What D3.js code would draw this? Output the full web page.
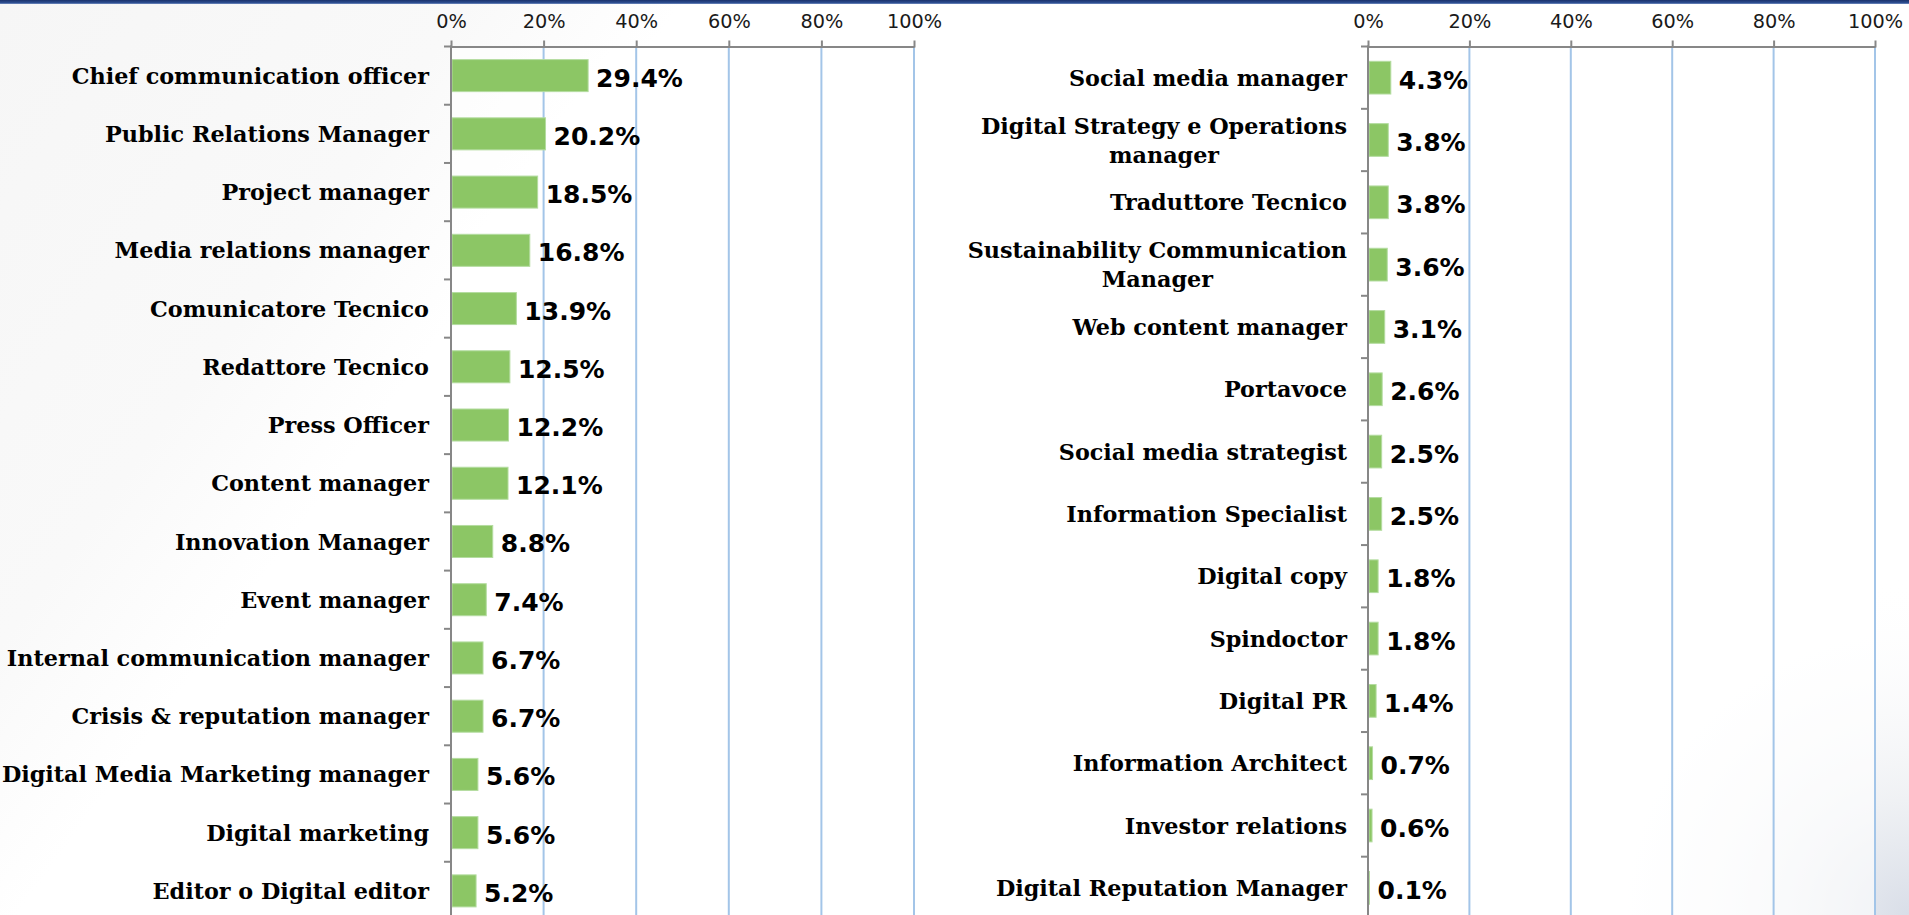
<!DOCTYPE html>
<html>
<head>
<meta charset="utf-8">
<script src="https://cdn.jsdelivr.net/npm/d3@7"></script>
<style>
  html, body { margin: 0; padding: 0; background: #f8f8f8; overflow: hidden; }
  svg { display: block; }
</style>
</head>
<body>
<svg id="chart" width="1909" height="915"></svg>
<script>
// ---------- DATA ----------
const leftCategories = [
  "Chief communication officer", "Public Relations Manager", "Project manager",
  "Media relations manager", "Comunicatore Tecnico", "Redattore Tecnico",
  "Press Officer", "Content manager", "Innovation Manager", "Event manager",
  "Internal communication manager", "Crisis & reputation manager",
  "Digital Media Marketing manager", "Digital marketing", "Editor o Digital editor"
];
const leftValues = [29.4, 20.2, 18.5, 16.8, 13.9, 12.5, 12.2, 12.1, 8.8, 7.4, 6.7, 6.7, 5.6, 5.6, 5.2];

const rightCategories = [
  "Social media manager", "Digital Strategy e Operations\nmanager", "Traduttore Tecnico",
  "Sustainability Communication\nManager", "Web content manager", "Portavoce",
  "Social media strategist", "Information Specialist", "Digital copy", "Spindoctor",
  "Digital PR", "Information Architect", "Investor relations", "Digital Reputation Manager"
];
const rightValues = [4.3, 3.8, 3.8, 3.6, 3.1, 2.6, 2.5, 2.5, 1.8, 1.8, 1.4, 0.7, 0.6, 0.1];

const tickValues = [0, 20, 40, 60, 80, 100];
const tickLabels = ["0%", "20%", "40%", "60%", "80%", "100%"];

// ---------- SETUP ----------
const W = 1909, H = 915;
const svg = d3.select("#chart");
const defs = svg.append("defs");

// background
const bgLin = defs.append("linearGradient").attr("id", "bgLin")
  .attr("x1", "0").attr("y1", "0").attr("x2", "1").attr("y2", "0.35");
bgLin.append("stop").attr("offset", "0%").attr("stop-color", "#f6f6f6");
bgLin.append("stop").attr("offset", "22%").attr("stop-color", "#f9f9f9");
bgLin.append("stop").attr("offset", "32%").attr("stop-color", "#ffffff");
bgLin.append("stop").attr("offset", "100%").attr("stop-color", "#ffffff");
svg.append("rect").attr("width", W).attr("height", H).attr("fill", "url(#bgLin)");

const bgRad = defs.append("radialGradient").attr("id", "bgRad")
  .attr("cx", W).attr("cy", H).attr("r", 340).attr("gradientUnits", "userSpaceOnUse");
bgRad.append("stop").attr("offset", "0%").attr("stop-color", "#d9dee8").attr("stop-opacity", 1);
bgRad.append("stop").attr("offset", "35%").attr("stop-color", "#eef0f3").attr("stop-opacity", 0.9);
bgRad.append("stop").attr("offset", "100%").attr("stop-color", "#ffffff").attr("stop-opacity", 0);
svg.append("rect").attr("width", W).attr("height", H).attr("fill", "url(#bgRad)");

// top blue strip
const topGrad = defs.append("linearGradient").attr("id", "topGrad")
  .attr("x1", "0").attr("y1", "0").attr("x2", "0").attr("y2", "1");
topGrad.append("stop").attr("offset", "0%").attr("stop-color", "#1a326c");
topGrad.append("stop").attr("offset", "70%").attr("stop-color", "#2e4f92");
topGrad.append("stop").attr("offset", "100%").attr("stop-color", "#7b93c4");
svg.append("rect").attr("x", 0).attr("y", 0).attr("width", W).attr("height", 4).attr("fill", "url(#topGrad)");

const BAR = "#8cc665";
const GRID = "#a3c5e8";
const AXIS = "#878787";

function drawPanel(cfg) {
  const { cats, vals, x0, x1, y0, y1, pad, labelRight } = cfg;
  const x = d3.scaleLinear().domain([0, 100]).range([x0, x1]);
  const y = d3.scaleBand().domain(cats).range([y0, y1]).paddingInner(pad).paddingOuter(pad / 2);
  const g = svg.append("g");

  // plot area
  g.append("rect").attr("x", x0).attr("y", y0).attr("width", x1 - x0).attr("height", H - y0)
    .attr("fill", "#ffffff").attr("opacity", 0.6);

  // gridlines
  g.selectAll("line.grid").data(tickValues.slice(1)).join("line")
    .attr("x1", d => x(d)).attr("x2", d => x(d))
    .attr("y1", y0).attr("y2", H)
    .attr("stroke", GRID).attr("stroke-width", 2);

  // top value axis
  const axis = d3.axisTop(x).tickValues(tickValues)
    .tickFormat((d, i) => tickLabels[i]).tickSizeInner(6).tickSizeOuter(0).tickPadding(13);
  const ag = g.append("g").attr("transform", `translate(0,${y0})`).call(axis);
  ag.select(".domain").attr("stroke", AXIS).attr("stroke-width", 2);
  ag.selectAll(".tick line").attr("stroke", AXIS).attr("stroke-width", 2).attr("y2", -6).attr("y1", 1);
  ag.selectAll(".tick text").attr("fill", "#1a1a1a")
    .style("font-family", "'DejaVu Sans', Verdana, sans-serif").style("font-size", "19.3px");

  // bars
  g.selectAll("rect.bar").data(vals).join("rect")
    .attr("x", x(0) + 1)
    .attr("y", (d, i) => y(cats[i]))
    .attr("width", d => Math.max(0, x(d) - x(0)))
    .attr("height", y.bandwidth())
    .attr("fill", BAR)
    .attr("stroke", "#b4dca0").attr("stroke-width", 1);

  // vertical category axis
  g.append("line").attr("x1", x0).attr("x2", x0).attr("y1", y0 - 1).attr("y2", H)
    .attr("stroke", AXIS).attr("stroke-width", 2);
  const bounds = d3.range(cats.length + 1).map(i => y0 + i * y.step());
  g.selectAll("line.ctick").data(bounds.slice(0, cats.length)).join("line")
    .attr("x1", x0 - 7).attr("x2", x0).attr("y1", d => d).attr("y2", d => d)
    .attr("stroke", AXIS).attr("stroke-width", 2);

  // value labels
  g.selectAll("text.val").data(vals).join("text")
    .attr("x", d => x(d) + 9)
    .attr("y", (d, i) => y(cats[i]) + y.bandwidth() / 2 + 2)
    .attr("dy", "0.36em")
    .style("font-family", "'DejaVu Sans', Verdana, sans-serif")
    .style("font-weight", "bold").style("font-size", "25px")
    .attr("fill", "#000")
    .text(d => d.toFixed(1) + "%");

  // category labels
  cats.forEach((c, i) => {
    const lines = c.split("\n");
    const cy = y(c) + y.bandwidth() / 2;
    const lh = 29;
    const t = g.append("text")
      .style("font-family", "'DejaVu Serif', 'Bookman Old Style', serif")
      .style("font-weight", "bold").style("font-size", "22.3px")
      .attr("fill", "#000");
    if (lines.length === 1) {
      t.attr("x", labelRight).attr("y", cy).attr("dy", "0.36em")
        .attr("text-anchor", "end").text(c);
    } else {
      const spans = lines.map((ln, k) => t.append("tspan").text(ln)
        .attr("y", cy + (k - (lines.length - 1) / 2) * lh).attr("dy", "0.36em"));
      const wmax = d3.max(spans, s => s.node().getComputedTextLength());
      spans.forEach(s => s.attr("x", labelRight - wmax / 2).attr("text-anchor", "middle"));
    }
  });
}

drawPanel({ cats: leftCategories, vals: leftValues, x0: 451, x1: 914, y0: 46.5, y1: 920, pad: 0.45, labelRight: 429 });
drawPanel({ cats: rightCategories, vals: rightValues, x0: 1368, x1: 1875, y0: 46.5, y1: 919, pad: 0.475, labelRight: 1347 });
</script>
</body>
</html>
